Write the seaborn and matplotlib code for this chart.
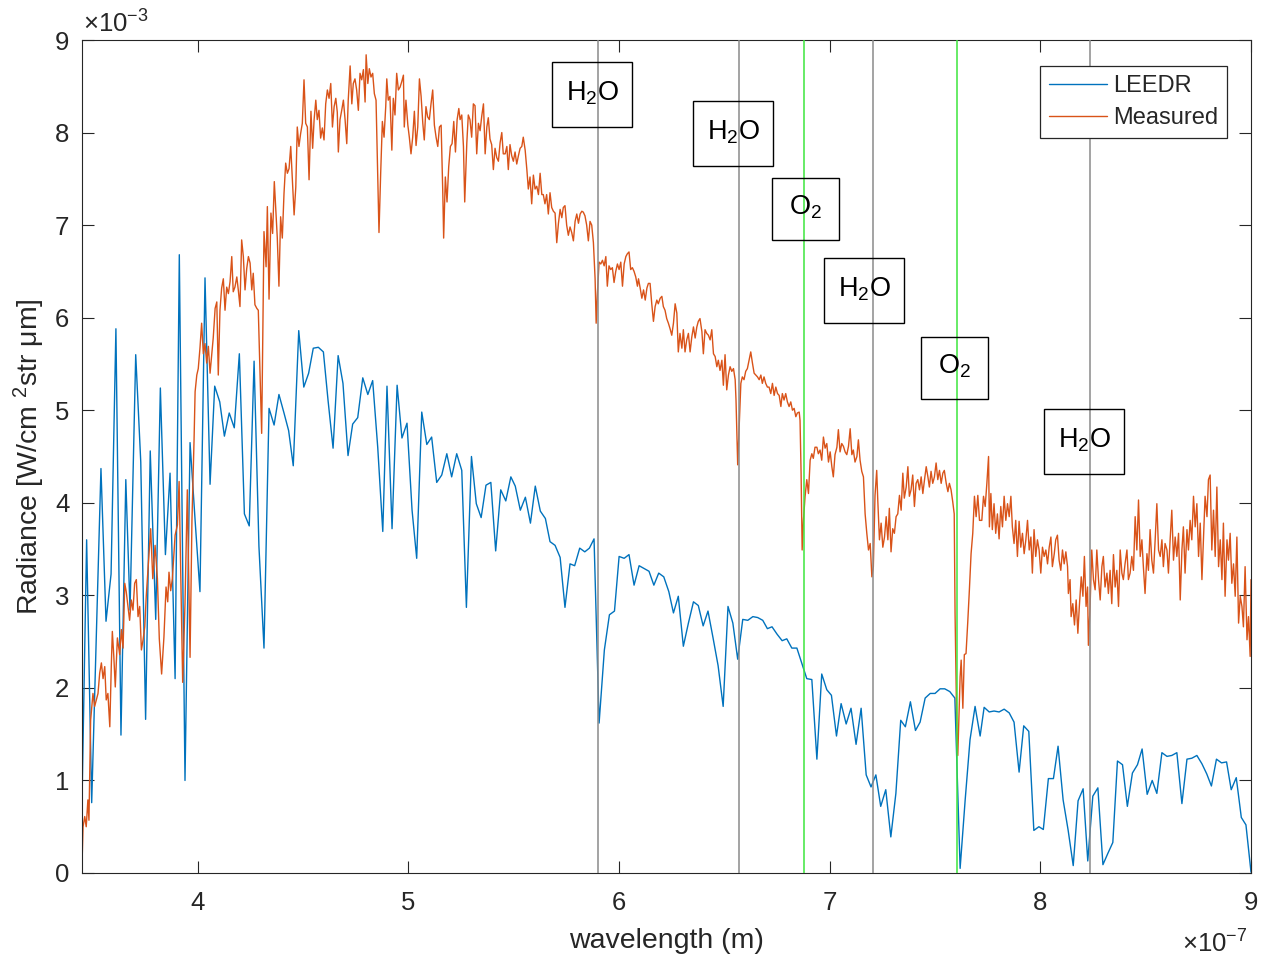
import numpy as np
import pandas as pd
import matplotlib
matplotlib.use("Agg")
import matplotlib.pyplot as plt
import seaborn as sns
from matplotlib.patches import Rectangle
from matplotlib.lines import Line2D

# ---------------- data (wavelength in nm, radiance in 1e-3 W/cm^2/sr/um) ----------------
leedr_wl_nm = [
    345.0, 347.2, 349.6, 354.0, 356.4, 358.8, 361.1, 363.5, 365.8, 367.8, 370.5, 372.9, 375.2, 377.4,
    380.0, 382.2, 384.6, 386.8, 389.2, 391.2, 393.9, 396.3, 398.7, 401.0, 403.4, 405.8, 408.0, 410.4,
    412.6, 414.9, 417.3, 419.7, 422.1, 424.4, 426.7, 429.0, 431.4, 433.8, 436.2, 438.5, 440.9, 443.1,
    445.3, 447.9, 450.3, 452.6, 454.8, 457.2, 459.6, 461.8, 464.2, 466.6, 468.9, 471.3, 473.5, 475.9,
    478.3, 480.7, 483.0, 485.4, 487.8, 489.8, 492.2, 494.6, 496.9, 499.3, 501.7, 503.9, 506.3, 508.7,
    511.0, 513.4, 515.8, 518.2, 520.5, 522.9, 525.3, 527.5, 529.9, 532.2, 534.5, 536.8, 539.1, 541.4,
    543.8, 546.2, 548.6, 550.7, 553.1, 555.5, 557.9, 560.2, 562.6, 565.0, 567.2, 569.6, 572.0, 574.3,
    576.7, 578.9, 581.3, 583.7, 585.9, 588.1, 590.5, 593.0, 595.4, 597.8, 600.0, 602.4, 604.7, 607.1,
    609.5, 611.9, 614.2, 616.5, 618.8, 621.2, 623.6, 625.8, 628.1, 630.5, 632.9, 635.3, 637.6, 639.9,
    642.2, 644.6, 647.0, 649.4, 651.7, 654.0, 656.3, 658.7, 661.1, 663.5, 665.8, 668.2, 670.4, 672.6,
    675.0, 677.4, 679.6, 682.0, 684.4, 686.7, 689.1, 691.5, 693.9, 696.2, 698.6, 700.8, 703.2, 705.4,
    707.8, 710.1, 712.5, 714.9, 717.3, 719.6, 721.9, 724.2, 726.6, 729.0, 731.4, 733.7, 735.9, 738.3,
    740.7, 742.9, 745.3, 747.7, 750.0, 752.4, 754.6, 757.0, 759.4, 761.9, 764.3, 766.6, 769.0, 771.4,
    773.3, 775.7, 778.0, 780.4, 782.8, 785.2, 787.5, 789.9, 792.1, 794.5, 796.9, 799.3, 801.4, 803.8,
    806.2, 808.4, 810.8, 813.2, 815.6, 817.9, 820.3, 822.5, 824.9, 827.3, 829.7, 832.0, 834.4, 836.6,
    839.0, 841.3, 843.7, 846.1, 848.3, 850.7, 853.1, 855.3, 857.7, 860.1, 862.4, 864.8, 867.2, 869.6,
    871.9, 874.3, 876.7, 879.0, 881.2, 883.6, 886.0, 888.4, 890.6, 893.0, 895.4, 897.6, 900.0]
leedr_rad = [
    0.76, 3.60, 0.76, 4.37, 2.72, 3.23, 5.88, 1.49, 4.25, 2.84, 5.60, 4.44, 1.66, 4.56,
    2.74, 5.24, 3.44, 4.32, 2.10, 6.68, 1.00, 4.65, 3.81, 3.04, 6.43, 4.20, 5.26, 5.09,
    4.72, 4.97, 4.81, 5.61, 3.88, 3.75, 5.53, 3.53, 2.43, 5.02, 4.84, 5.17, 4.97, 4.78,
    4.40, 5.86, 5.25, 5.40, 5.67, 5.68, 5.63, 5.11, 4.59, 5.59, 5.29, 4.51, 4.85, 4.92,
    5.35, 5.17, 5.32, 4.60, 3.69, 5.26, 3.72, 5.27, 4.70, 4.86, 3.92, 3.40, 4.98, 4.63,
    4.71, 4.22, 4.30, 4.53, 4.28, 4.53, 4.35, 2.87, 4.50, 3.99, 3.84, 4.19, 4.22, 3.48,
    4.14, 4.02, 4.28, 4.18, 3.92, 4.06, 3.78, 4.18, 3.91, 3.83, 3.58, 3.54, 3.41, 2.87,
    3.34, 3.32, 3.51, 3.47, 3.51, 3.61, 1.62, 2.41, 2.79, 2.83, 3.42, 3.40, 3.44, 3.11,
    3.32, 3.29, 3.26, 3.11, 3.24, 3.20, 3.04, 2.81, 2.99, 2.45, 2.70, 2.93, 2.89, 2.67,
    2.83, 2.54, 2.24, 1.80, 2.88, 2.70, 2.31, 2.74, 2.73, 2.77, 2.76, 2.73, 2.64, 2.66,
    2.58, 2.51, 2.53, 2.43, 2.43, 2.27, 2.10, 2.09, 1.23, 2.15, 1.98, 1.92, 1.48, 1.83,
    1.61, 1.78, 1.39, 1.78, 1.06, 0.93, 1.06, 0.72, 0.90, 0.39, 0.86, 1.65, 1.58, 1.85,
    1.54, 1.63, 1.89, 1.94, 1.94, 1.99, 1.99, 1.96, 1.89, 0.05, 0.79, 1.44, 1.80, 1.48,
    1.79, 1.74, 1.75, 1.74, 1.77, 1.73, 1.63, 1.09, 1.59, 1.53, 0.46, 0.50, 0.47, 1.02,
    1.02, 1.37, 0.79, 0.46, 0.08, 0.78, 0.91, 0.13, 0.83, 0.92, 0.09, 0.21, 0.33, 1.21,
    1.17, 0.72, 1.08, 1.17, 1.34, 0.85, 1.00, 0.86, 1.30, 1.26, 1.27, 1.30, 0.75, 1.23,
    1.24, 1.27, 1.18, 1.07, 0.94, 1.23, 1.19, 1.20, 0.90, 1.03, 0.60, 0.52, 0.01]

measured_wl_nm = [
    345.0, 345.5, 346.3, 347.0, 347.8, 348.3, 348.8, 349.1, 350.2, 351.0, 351.8, 352.6, 353.4, 354.2,
    355.0, 355.8, 356.5, 357.3, 358.2, 358.9, 359.4, 360.1, 360.8, 361.8, 362.9, 363.7, 364.5, 365.3,
    366.0, 366.8, 367.6, 368.4, 369.2, 370.0, 370.8, 371.6, 372.4, 373.2, 374.0, 374.8, 375.5, 377.6,
    378.6, 379.7, 380.8, 381.7, 382.8, 383.9, 384.9, 385.7, 386.3, 387.1, 387.9, 389.2, 390.3, 391.1,
    392.0, 392.8, 393.9, 395.0, 396.3, 397.2, 398.2, 398.7, 399.5, 400.2, 401.0, 401.8, 402.6, 403.4,
    404.2, 405.0, 405.8, 406.6, 407.3, 408.2, 409.0, 409.7, 410.5, 411.3, 412.1, 412.9, 413.7, 414.5,
    415.3, 416.1, 416.8, 417.6, 418.5, 419.2, 420.0, 420.8, 421.6, 422.4, 423.2, 424.0, 424.8, 425.6,
    426.3, 427.1, 428.0, 428.7, 429.5, 430.3, 431.4, 432.4, 433.0, 433.8, 434.7, 435.5, 436.3, 437.1,
    437.7, 438.5, 439.3, 440.1, 440.9, 441.7, 442.5, 443.3, 444.1, 444.9, 445.7, 446.5, 447.2, 448.0,
    448.8, 449.6, 450.4, 451.2, 452.0, 452.8, 453.7, 454.5, 455.2, 456.0, 456.7, 457.5, 458.3, 459.1,
    459.9, 460.7, 461.5, 462.3, 463.1, 463.9, 464.7, 465.5, 466.2, 466.7, 467.5, 468.3, 469.1, 469.9,
    470.7, 471.4, 472.3, 473.1, 473.8, 474.6, 475.4, 476.2, 477.0, 477.8, 478.6, 479.4, 479.9, 480.7,
    481.4, 482.2, 483.0, 483.8, 484.6, 485.4, 486.0, 486.8, 487.6, 488.4, 489.2, 489.7, 490.4, 491.2,
    492.1, 492.8, 493.6, 494.4, 495.2, 496.0, 496.8, 497.6, 498.0, 498.8, 499.7, 500.4, 501.2, 502.0,
    502.8, 503.6, 504.4, 505.2, 506.0, 506.8, 507.5, 508.3, 509.1, 509.9, 510.7, 511.5, 512.3, 513.1,
    513.9, 514.7, 515.5, 516.3, 516.7, 517.5, 518.3, 519.1, 519.9, 520.7, 521.5, 522.3, 523.1, 523.9,
    524.5, 525.3, 526.1, 526.7, 527.7, 528.4, 529.2, 530.0, 530.8, 531.6, 532.4, 533.2, 534.0, 534.8,
    535.6, 536.4, 537.2, 537.9, 538.7, 539.5, 540.3, 541.1, 541.9, 542.7, 543.5, 544.3, 545.0, 545.9,
    546.7, 547.4, 548.2, 549.0, 549.8, 550.6, 551.4, 552.2, 553.0, 553.8, 554.5, 555.4, 556.2, 556.9,
    557.7, 558.5, 559.3, 560.1, 560.9, 561.7, 562.5, 563.3, 564.0, 564.8, 565.6, 566.4, 567.2, 568.0,
    568.8, 569.6, 570.4, 571.2, 572.0, 572.8, 573.5, 574.3, 575.1, 575.9, 576.7, 577.5, 578.3, 579.1,
    579.9, 580.7, 581.5, 582.3, 583.0, 583.8, 584.6, 585.4, 586.2, 587.0, 587.8, 588.6, 589.1, 589.7,
    590.5, 591.3, 592.1, 592.9, 593.7, 594.4, 595.2, 596.0, 596.8, 597.6, 598.4, 599.2, 600.0, 600.8,
    601.6, 602.4, 603.2, 603.9, 604.7, 605.5, 606.3, 607.1, 607.9, 608.7, 609.2, 610.0, 610.8, 611.6,
    612.4, 613.2, 613.9, 614.7, 615.5, 616.3, 617.1, 617.9, 618.6, 619.5, 620.3, 621.0, 621.8, 622.6,
    623.4, 624.2, 625.0, 625.8, 626.6, 627.4, 628.1, 628.9, 629.8, 630.5, 631.3, 632.1, 632.9, 633.7,
    634.5, 635.3, 636.1, 636.9, 637.6, 638.4, 639.3, 640.0, 640.8, 641.6, 642.4, 643.2, 644.0, 644.8,
    645.6, 646.4, 647.1, 647.9, 648.8, 649.5, 650.3, 651.1, 651.9, 652.7, 653.5, 654.3, 655.1, 655.5,
    656.3, 657.1, 657.8, 658.5, 659.3, 660.1, 660.9, 661.7, 662.5, 663.3, 664.1, 664.9, 665.7, 666.5,
    667.3, 668.0, 668.8, 669.6, 670.4, 671.2, 672.0, 672.8, 673.6, 674.4, 675.2, 676.0, 676.8, 677.5,
    678.3, 679.1, 679.9, 680.7, 681.5, 682.3, 683.1, 683.9, 684.6, 685.5, 685.9, 686.4, 686.9, 687.5,
    688.3, 689.1, 689.9, 690.7, 691.5, 692.2, 693.0, 693.9, 694.6, 695.4, 696.2, 697.0, 697.8, 698.6,
    699.4, 700.2, 701.0, 701.7, 702.5, 703.4, 704.1, 704.9, 705.7, 706.5, 707.3, 708.1, 708.9, 709.7,
    710.5, 711.2, 712.0, 712.9, 713.6, 714.4, 715.2, 716.0, 716.8, 717.6, 718.4, 719.2, 720.0, 720.7,
    721.5, 722.3, 722.8, 723.6, 724.4, 725.2, 726.0, 726.8, 727.6, 728.3, 729.1, 729.9, 730.7, 731.5,
    732.3, 733.1, 733.9, 734.7, 735.4, 736.3, 737.1, 737.8, 738.6, 739.4, 740.2, 741.0, 741.8, 742.6,
    743.4, 744.2, 745.0, 745.8, 746.6, 747.3, 748.1, 748.9, 749.7, 750.5, 751.3, 752.1, 752.9, 753.7,
    754.4, 755.3, 756.1, 756.8, 757.6, 758.4, 759.1, 759.5, 760.3, 760.8, 761.4, 761.9, 762.4, 763.2,
    763.9, 764.7, 765.5, 766.3, 767.1, 767.9, 768.7, 769.5, 770.3, 771.1, 772.2, 773.0, 773.8, 774.6,
    775.4, 775.8, 776.5, 777.2, 778.0, 778.8, 779.6, 780.4, 781.2, 782.0, 782.8, 783.6, 784.4, 785.2,
    786.0, 786.7, 787.5, 788.3, 789.1, 789.9, 790.7, 791.5, 792.3, 793.1, 793.9, 794.7, 795.5, 796.2,
    797.0, 797.8, 798.6, 799.4, 800.2, 801.0, 801.8, 802.6, 803.4, 804.2, 805.0, 805.7, 806.6, 807.3,
    808.1, 808.9, 809.7, 810.5, 811.3, 812.1, 812.9, 813.3, 814.1, 814.6, 815.4, 816.2, 817.0, 817.8,
    818.5, 819.4, 820.2, 820.9, 821.7, 822.4, 822.8, 823.6, 824.4, 825.2, 826.0, 826.8, 827.6, 828.4,
    829.2, 829.9, 830.7, 831.6, 832.3, 833.1, 833.9, 834.7, 835.5, 836.3, 837.1, 837.9, 838.7, 839.4,
    840.2, 841.1, 841.8, 842.6, 843.4, 844.2, 845.0, 845.8, 846.6, 847.4, 848.2, 848.9, 849.7, 850.6,
    851.3, 852.1, 852.9, 853.7, 854.5, 855.3, 856.1, 856.9, 857.7, 858.4, 859.2, 860.1, 860.8, 861.6,
    862.4, 863.2, 864.0, 864.8, 865.6, 866.4, 867.2, 867.9, 868.7, 869.6, 870.3, 871.1, 871.9, 872.7,
    873.5, 874.3, 875.1, 875.9, 876.7, 877.4, 878.2, 879.1, 879.8, 880.6, 881.4, 882.2, 883.0, 883.8,
    884.6, 885.4, 886.2, 886.9, 887.7, 888.6, 889.3, 890.1, 890.9, 891.7, 892.5, 893.3, 894.1, 894.9,
    895.7, 896.4, 897.2, 898.1, 898.8, 899.6, 900.0]
measured_rad = [
    0.09, 0.50, 0.61, 0.50, 0.79, 0.57, 1.22, 1.65, 1.94, 1.80, 1.87, 1.94, 2.16, 2.27,
    2.10, 2.23, 1.87, 1.94, 1.58, 2.23, 2.61, 2.34, 2.01, 2.54, 2.36, 2.63, 2.43, 3.13,
    3.04, 2.88, 2.73, 2.95, 2.84, 3.13, 3.17, 2.77, 2.88, 2.41, 2.52, 2.66, 2.99, 3.72,
    3.18, 3.54, 3.18, 2.53, 2.15, 2.55, 3.09, 2.93, 3.25, 3.05, 3.18, 3.65, 3.76, 4.23,
    3.05, 2.06, 2.91, 4.14, 2.33, 3.81, 4.68, 5.20, 5.38, 5.45, 5.67, 5.94, 5.61, 5.72,
    5.51, 5.69, 5.40, 5.61, 5.78, 6.10, 6.17, 5.38, 6.08, 6.32, 6.42, 6.08, 6.33, 6.26,
    6.39, 6.66, 6.28, 6.33, 6.44, 6.30, 6.12, 6.84, 6.66, 6.30, 6.53, 6.66, 6.59, 6.30,
    6.48, 6.14, 6.10, 6.08, 5.40, 4.75, 6.93, 6.55, 7.20, 6.20, 7.13, 6.91, 7.47, 7.13,
    6.87, 6.34, 7.09, 6.86, 7.34, 7.67, 7.56, 7.61, 7.85, 7.49, 7.11, 7.41, 8.06, 7.85,
    7.99, 8.10, 8.57, 8.10, 8.06, 7.49, 8.23, 7.83, 8.14, 8.35, 8.14, 8.24, 7.94, 8.05,
    7.92, 8.31, 8.46, 8.37, 8.53, 8.06, 8.28, 8.37, 8.22, 7.79, 8.14, 8.24, 8.35, 8.14,
    7.88, 8.35, 8.72, 8.31, 8.53, 8.58, 8.46, 8.24, 8.64, 8.57, 8.68, 8.33, 8.84, 8.53,
    8.69, 8.60, 8.64, 8.42, 8.35, 7.56, 6.92, 7.56, 8.12, 7.95, 8.28, 8.58, 8.35, 8.39,
    7.81, 8.37, 8.19, 8.64, 8.46, 8.49, 8.55, 8.62, 8.06, 8.35, 8.08, 7.95, 7.77, 7.95,
    8.23, 7.86, 8.06, 8.58, 8.39, 8.10, 7.92, 8.28, 8.17, 8.14, 8.31, 8.46, 8.08, 7.95,
    7.85, 8.06, 8.08, 7.34, 6.86, 7.52, 7.25, 7.63, 7.85, 7.88, 8.12, 7.79, 8.14, 8.26,
    8.14, 8.19, 7.85, 7.25, 7.89, 8.19, 8.14, 7.95, 8.31, 8.29, 7.77, 8.10, 8.02, 8.18,
    8.31, 7.77, 8.06, 8.16, 7.93, 7.87, 7.60, 7.83, 7.73, 7.69, 7.89, 8.00, 7.77, 7.77,
    7.85, 7.60, 7.87, 7.75, 7.69, 7.79, 7.66, 7.75, 7.83, 7.85, 7.95, 7.81, 7.60, 7.39,
    7.52, 7.23, 7.54, 7.39, 7.42, 7.33, 7.56, 7.33, 7.33, 7.23, 7.33, 7.12, 7.35, 7.19,
    7.15, 7.13, 6.81, 7.02, 7.17, 7.08, 7.19, 7.21, 7.00, 6.89, 6.98, 6.92, 6.83, 7.04,
    7.12, 7.02, 7.12, 7.15, 7.14, 7.10, 7.00, 6.83, 7.04, 7.00, 6.81, 6.42, 5.94, 6.27,
    6.60, 6.58, 6.62, 6.56, 6.66, 6.34, 6.56, 6.52, 6.54, 6.38, 6.50, 6.58, 6.52, 6.60,
    6.34, 6.58, 6.66, 6.69, 6.71, 6.52, 6.54, 6.50, 6.44, 6.34, 6.42, 6.32, 6.21, 6.30,
    6.19, 6.32, 6.37, 6.37, 6.15, 5.96, 6.12, 6.19, 6.15, 6.21, 6.23, 6.12, 6.08, 5.99,
    5.94, 5.88, 5.81, 5.94, 6.15, 6.05, 5.63, 5.83, 5.67, 5.87, 5.63, 5.76, 5.83, 5.63,
    5.79, 5.90, 5.78, 5.90, 5.96, 5.99, 5.85, 5.61, 5.87, 5.83, 5.81, 5.76, 5.87, 5.61,
    5.58, 5.47, 5.54, 5.43, 5.54, 5.27, 5.60, 5.22, 5.38, 5.47, 5.42, 5.45, 5.33, 5.11,
    4.41, 4.89, 5.29, 5.36, 5.33, 5.42, 5.45, 5.54, 5.63, 5.51, 5.40, 5.38, 5.36, 5.33,
    5.38, 5.29, 5.36, 5.29, 5.25, 5.25, 5.18, 5.29, 5.16, 5.25, 5.18, 5.16, 5.04, 5.18,
    5.11, 5.18, 5.09, 5.04, 5.09, 5.00, 5.02, 4.93, 4.97, 4.98, 4.89, 4.32, 3.49, 3.81,
    4.07, 4.25, 4.10, 4.46, 4.53, 4.48, 4.60, 4.60, 4.53, 4.57, 4.46, 4.71, 4.59, 4.64,
    4.44, 4.55, 4.39, 4.28, 4.52, 4.60, 4.79, 4.55, 4.64, 4.61, 4.55, 4.52, 4.61, 4.80,
    4.52, 4.57, 4.44, 4.50, 4.68, 4.46, 4.34, 4.28, 3.88, 3.67, 3.49, 3.56, 3.20, 3.31,
    4.08, 4.35, 4.03, 3.60, 3.78, 3.52, 3.63, 3.85, 3.60, 3.94, 3.47, 3.72, 3.67, 3.85,
    3.88, 4.08, 3.92, 4.32, 4.05, 4.17, 4.39, 4.07, 4.14, 4.30, 3.96, 4.21, 4.25, 4.14,
    4.28, 4.10, 4.25, 4.39, 4.28, 4.17, 4.34, 4.21, 4.28, 4.43, 4.25, 4.35, 4.21, 4.32,
    4.35, 4.21, 4.12, 4.21, 4.14, 4.01, 3.88, 2.80, 1.58, 1.27, 1.72, 2.12, 2.30, 1.78,
    2.36, 2.37, 2.70, 3.06, 3.45, 3.67, 4.07, 3.85, 4.08, 3.81, 3.81, 4.07, 3.96, 4.21,
    4.50, 3.74, 4.10, 3.71, 3.99, 3.67, 3.88, 3.61, 3.96, 3.74, 4.07, 3.81, 3.99, 3.85,
    4.07, 3.74, 3.56, 3.81, 3.42, 3.80, 3.52, 3.67, 3.45, 3.60, 3.81, 3.49, 3.63, 3.24,
    3.71, 3.42, 3.60, 3.49, 3.24, 3.52, 3.42, 3.49, 3.34, 3.52, 3.63, 3.31, 3.45, 3.60,
    3.65, 3.38, 3.27, 3.49, 3.34, 3.47, 3.31, 3.02, 3.17, 2.77, 2.91, 2.68, 2.95, 2.59,
    2.88, 3.20, 2.99, 3.42, 2.88, 3.09, 2.46, 2.88, 3.49, 3.17, 3.06, 3.49, 3.17, 2.95,
    3.31, 3.42, 3.09, 3.24, 3.02, 3.27, 2.91, 3.44, 3.09, 3.27, 2.88, 3.49, 3.24, 3.17,
    3.34, 3.49, 3.17, 3.24, 3.42, 3.27, 3.85, 3.49, 4.03, 3.42, 3.60, 3.31, 3.02, 3.45,
    3.27, 3.71, 3.38, 3.24, 3.60, 3.99, 3.49, 3.42, 3.60, 3.31, 3.56, 3.49, 3.24, 3.60,
    3.92, 3.38, 3.63, 3.42, 3.67, 2.95, 3.49, 3.74, 3.24, 3.71, 3.49, 3.81, 3.60, 4.07,
    3.74, 3.99, 3.42, 3.78, 3.17, 3.60, 4.07, 3.85, 4.25, 4.30, 3.49, 3.92, 3.42, 4.17,
    3.31, 3.60, 3.17, 3.78, 2.99, 3.60, 3.38, 3.67, 3.13, 3.34, 2.99, 3.63, 2.70, 2.99,
    2.88, 2.66, 3.31, 2.52, 2.77, 2.34, 3.17]

# absorption features marked by vertical lines
absorber_wl_nm = [590.0, 657.0, 687.8, 720.6, 760.5, 823.6]
absorber_species = ["H2O", "H2O", "O2", "H2O", "O2", "H2O"]

x_tick_values = [4, 5, 6, 7, 8, 9]          # x 1e-7 m
y_tick_values = [0, 1, 2, 3, 4, 5, 6, 7, 8, 9]  # x 1e-3

# ---------------- styling ----------------
sns.set_style("ticks")
plt.rcParams["font.family"] = ["Liberation Sans", "DejaVu Sans"]
plt.rcParams["mathtext.fontset"] = "custom"
plt.rcParams["mathtext.rm"] = "Liberation Sans"
plt.rcParams["mathtext.it"] = "Liberation Sans:italic"
plt.rcParams["mathtext.bf"] = "Liberation Sans:bold"

BLUE = "#0072BD"
ORANGE = "#D95319"
GRAY = "#8a8a8a"
GREEN = "#3DE63D"
TXT = "#262626"
species_color = {"H2O": GRAY, "O2": GREEN}
species_label = {"H2O": r"H$_{2}$O", "O2": r"O$_{2}$"}

fig = plt.figure(figsize=(12.65, 9.6), dpi=100)
ax = fig.add_axes([82 / 1265, 87 / 960, 1169 / 1265, 833 / 960])

df_leedr = pd.DataFrame({"wavelength": np.array(leedr_wl_nm) * 1e-9,
                         "radiance": np.array(leedr_rad) * 1e-3})
df_meas = pd.DataFrame({"wavelength": np.array(measured_wl_nm) * 1e-9,
                        "radiance": np.array(measured_rad) * 1e-3})

sns.lineplot(data=df_leedr, x="wavelength", y="radiance", ax=ax, color=BLUE,
             linewidth=1.0, estimator=None, sort=False, legend=False)
sns.lineplot(data=df_meas, x="wavelength", y="radiance", ax=ax, color=ORANGE,
             linewidth=1.0, estimator=None, sort=False, legend=False)

for wl, sp in zip(absorber_wl_nm, absorber_species):
    ax.axvline(wl * 1e-9, color=species_color[sp], linewidth=1.1, zorder=3)

ax.set_xlim(3.45e-7, 9e-7)
ax.set_ylim(0, 9e-3)
ax.set_xticks(np.array(x_tick_values) * 1e-7)
ax.set_xticklabels([str(v) for v in x_tick_values])
ax.set_yticks(np.array(y_tick_values) * 1e-3)
ax.set_yticklabels([str(v) for v in y_tick_values])
ax.tick_params(axis="both", direction="in", length=8.5, width=0.8, top=True, right=True,
               labelsize=18.5, colors=TXT)
ax.tick_params(axis="x", pad=13)
ax.tick_params(axis="y", pad=9)
for s in ax.spines.values():
    s.set_color(TXT)
    s.set_linewidth(0.8)

ax.set_xlabel("wavelength (m)", fontsize=20.5, color=TXT)
ax.xaxis.set_label_coords(0.5, -0.066)
ax.set_ylabel("Radiance [W/cm $^{2}$str \u03bcm]", fontsize=20.5, color=TXT)
ax.yaxis.set_label_coords(-0.030, 0.5)

# exponent labels (MATLAB style)
fig.text(83 / 1265, 1 - 33 / 960, r"$\times$10$^{-3}$", fontsize=18.5, color=TXT,
         ha="left", va="baseline")
fig.text(1182 / 1265, 1 - 953 / 960, r"$\times$10$^{-7}$", fontsize=18.5, color=TXT,
         ha="left", va="baseline")

# annotation text boxes (axes fraction: x0, x1, y0, y1)
box_layout = [(0.4021, 0.4705, 0.8956, 0.9736),
              (0.5227, 0.5911, 0.8487, 0.9268),
              (0.5902, 0.6476, 0.7599, 0.8343),
              (0.6347, 0.7032, 0.6603, 0.7383),
              (0.7177, 0.7750, 0.5690, 0.6435),
              (0.8229, 0.8914, 0.4790, 0.5570)]
for (x0, x1, y0, y1), sp in zip(box_layout, absorber_species):
    ax.add_patch(Rectangle((x0, y0), x1 - x0, y1 - y0, transform=ax.transAxes,
                           fill=False, edgecolor="black", linewidth=1.0,
                           clip_on=False, zorder=6))
    ax.text((x0 + x1) / 2, (y0 + y1) / 2 + 0.002, species_label[sp], transform=ax.transAxes,
            ha="center", va="center", fontsize=19.5, color="black", zorder=7)

handles = [Line2D([], [], color=BLUE, linewidth=1.0),
           Line2D([], [], color=ORANGE, linewidth=1.0)]
leg = ax.legend(handles, ["LEEDR", "Measured"], loc="upper right",
                bbox_to_anchor=((1227 - 82) / 1169, (873 - 66) / 833),
                frameon=True, fancybox=False, framealpha=1, edgecolor=TXT,
                fontsize=17, handlelength=2.45, handletextpad=0.25,
                borderpad=0.38, labelspacing=0.42, borderaxespad=0)
leg.get_frame().set_linewidth(0.9)
leg.set_zorder(10)

fig.savefig("out.png", dpi=100)
